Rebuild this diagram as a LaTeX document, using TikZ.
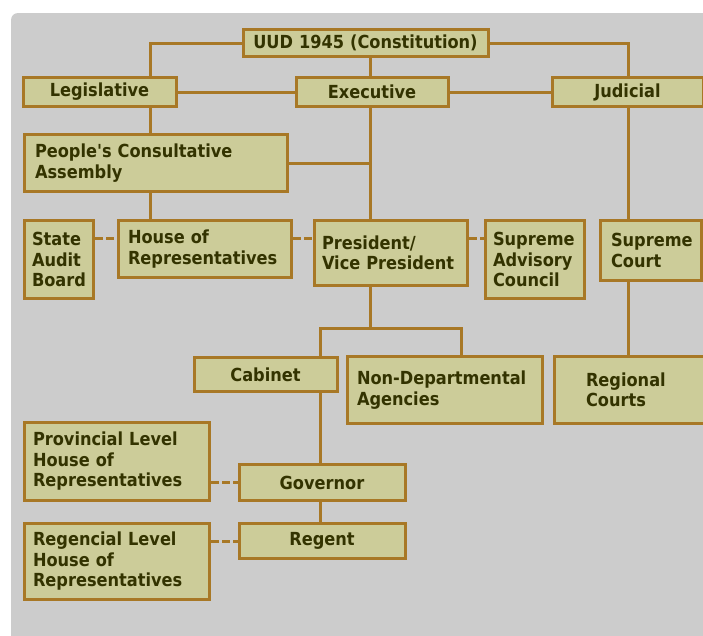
\documentclass[tikz,border=0pt]{standalone}
\usepackage{fontspec}
\newfontfamily\boxfont{DejaVu Sans Condensed}
\definecolor{panel}{RGB}{204,204,204}
\definecolor{boxfill}{RGB}{204,204,153}
\definecolor{rule}{RGB}{168,120,38}
\definecolor{ink}{RGB}{51,51,0}
\tikzset{
  orgbox/.style={draw=rule, line width=3pt, fill=boxfill, text=ink,
    inner xsep=0pt, inner ysep=0pt,
    font=\boxfont\bfseries\fontsize{18}{20.5}\selectfont},
  link/.style={draw=rule, line width=3pt},
  dashlink/.style={draw=rule, line width=3pt, dash pattern=on 8pt off 3pt}
}
% \orgnode{name}{x1}{y1}{x2}{y2}{left pad}{alignment}{text}
\newcommand\orgnode[8]{%
  \pgfmathsetmacro\ox{(#2+#4)/2}%
  \pgfmathsetmacro\oy{(#3+#5)/2}%
  \pgfmathsetmacro\ow{#4-#2-3}%
  \pgfmathsetmacro\oh{#5-#3-3}%
  \pgfmathsetmacro\otw{#4-#2-2*#6}%
  \node[orgbox, minimum width=\ow pt, minimum height=\oh pt,
        text width=\otw pt, align=#7] (#1) at (\ox,\oy) {#8};%
}
\begin{document}
\begin{tikzpicture}[x=1pt,y=-1pt]
\useasboundingbox (0,0) rectangle (703,635);
\clip (0,0) rectangle (703,635);
\fill[panel, rounded corners=7pt] (11,13) rectangle (720,650);

% boxes
\orgnode{uud}{243}{28}{488}{58}{0}{center}{UUD 1945 (Constitution)}
\orgnode{leg}{23}{76}{176}{108}{0}{center}{Legislative}
\orgnode{exec}{296}{76}{448}{108}{0}{center}{Executive}
\orgnode{jud}{552}{76}{703}{108}{0}{center}{Judicial}
\orgnode{pca}{23}{133}{289}{193}{12}{left}{People's Consultative\\Assembly}
\orgnode{sab}{23}{219}{95}{300}{9}{left}{State\\Audit\\Board}
\orgnode{house}{117}{219}{293}{279}{11}{left}{House of\\Representatives}
\orgnode{pres}{313}{219}{469}{287}{9}{left}{President/\\Vice President}
\orgnode{sac}{484}{219}{586}{300}{9}{left}{Supreme\\Advisory\\Council}
\orgnode{sc}{599}{219}{703}{282}{12}{left}{Supreme\\Court}
\orgnode{cab}{194}{356}{337}{393}{0}{center}{Cabinet}
\orgnode{nda}{346}{355}{544}{425}{11}{left}{Non-Departmental\\Agencies}
\orgnode{rc}{553}{355}{713}{425}{33}{left}{Regional\\Courts}
\orgnode{prov}{23}{421}{211}{502}{10}{left}{Provincial Level\\House of\\Representatives}
\orgnode{gov}{239}{463}{405}{502}{0}{center}{Governor}
\orgnode{reg}{239}{522}{405}{560}{0}{center}{Regent}
\orgnode{regl}{23}{522}{211}{601}{10}{left}{Regencial Level\\House of\\Representatives}

% junction points of the tree
\coordinate (lx) at (150,43);
\coordinate (jx) at (628,43);
\coordinate (ex) at (370,0);
\coordinate (split) at (370,328);
\coordinate (cabx) at (320,328);
\coordinate (ndax) at (461,328);
\coordinate (dy) at (0,238);

% solid connectors
\draw[link] (uud.west) -- (lx) -- (lx |- leg.north);
\draw[link] (uud.east) -- (jx) -- (jx |- jud.north);
\draw[link] (ex |- uud.south) -- (ex |- exec.north);
\draw[link] (leg.east) -- (exec.west);
\draw[link] (exec.east) -- (jud.west);
\draw[link] (lx |- leg.south) -- (lx |- pca.north);
\draw[link] (lx |- pca.south) -- (lx |- house.north);
\draw[link] (ex |- exec.south) -- (ex |- pres.north);
\draw[link] (pca.east) -- (pca.east -| ex);
\draw[link] (jx |- jud.south) -- (jx |- sc.north);
\draw[link] (jx |- sc.south) -- (jx |- rc.north);
\draw[link] (split |- pres.south) -- (split);
\draw[link] (cabx |- cab.north) -- (cabx) -- (ndax) -- (ndax |- nda.north);
\draw[link] (cabx |- cab.south) -- (cabx |- gov.north);
\draw[link] (cabx |- gov.south) -- (cabx |- reg.north);

% dashed connectors
\draw[dashlink] (sab.east |- dy) -- (house.west |- dy);
\draw[dashlink] (house.east |- dy) -- (pres.west |- dy);
\draw[dashlink] (pres.east |- dy) -- (sac.west |- dy);
\draw[dashlink] (prov.east |- gov.west) -- (gov.west);
\draw[dashlink] (regl.east |- reg.west) -- (reg.west);
\end{tikzpicture}
\end{document}
